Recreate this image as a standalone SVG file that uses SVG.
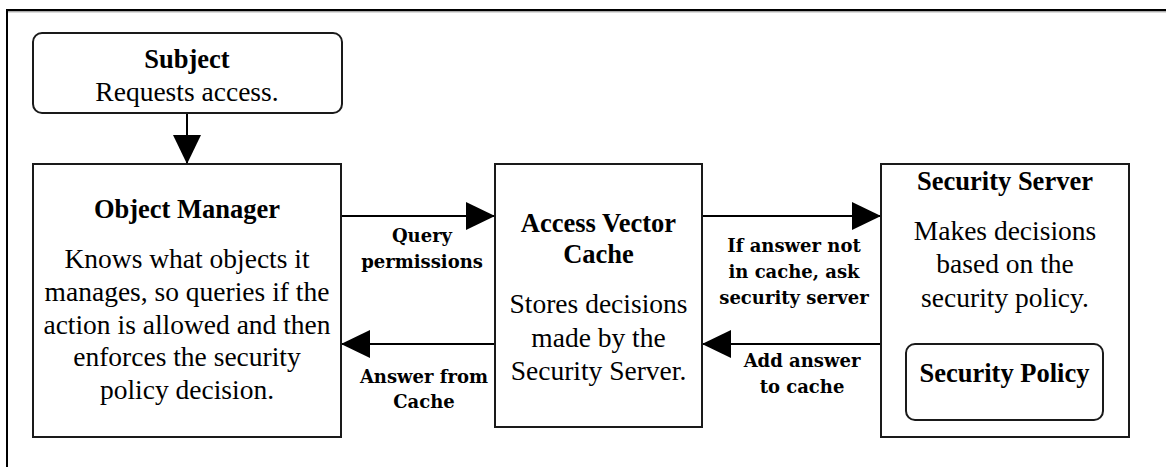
<svg xmlns="http://www.w3.org/2000/svg" width="1166" height="467" viewBox="0 0 1166 467">
  <style>
    .box { fill: #ffffff; stroke: #1a1a1a; stroke-width: 2; }
    .title { font-family: "Liberation Serif", "Times New Roman", serif; font-weight: bold; font-size: 26.5px; fill: #000; text-anchor: middle; }
    .body { font-family: "Liberation Serif", "Times New Roman", serif; font-size: 27.5px; fill: #000; text-anchor: middle; }
    .label { font-family: "DejaVu Serif", serif; font-weight: bold; font-size: 18px; fill: #000; text-anchor: middle; }
    .link { fill: none; stroke: #000; stroke-width: 2; marker-end: url(#head); }
  </style>
  <defs>
    <marker id="head" markerUnits="userSpaceOnUse" markerWidth="29" markerHeight="28" refX="29" refY="14" orient="auto">
      <path d="M0,0 L29,14 L0,28 Z" fill="#000"/>
    </marker>
  </defs>

  <rect width="1166" height="467" fill="#ffffff"/>

  <!-- frame: top and left edges only -->
  <g id="frame">
    <path d="M7,467 V10 H1166" fill="none" stroke="#000" stroke-width="2"/>
    <path d="M8,11.8 H1166" fill="none" stroke="#888" stroke-width="1"/>
  </g>

  <g id="connectors">
    <line class="link" x1="187" y1="113" x2="187" y2="164"/>
    <line class="link" x1="341" y1="216" x2="495" y2="216"/>
    <line class="link" x1="495" y1="344" x2="341" y2="344"/>
    <line class="link" x1="702" y1="216" x2="881" y2="216"/>
    <line class="link" x1="881" y1="344" x2="702" y2="344"/>
    <text class="label" x="422" y="242">Query</text>
    <text class="label" x="422" y="268">permissions</text>
    <text class="label" x="424" y="383">Answer from</text>
    <text class="label" x="424" y="408">Cache</text>
    <text class="label" x="794" y="252">If answer not</text>
    <text class="label" x="794" y="278">in cache, ask</text>
    <text class="label" x="794" y="304">security server</text>
    <text class="label" x="802" y="367">Add answer</text>
    <text class="label" x="802" y="393">to cache</text>
  </g>

  <g id="subject">
    <rect class="box" x="33" y="33" width="309" height="80" rx="9"/>
    <text class="title" x="187" y="68">Subject</text>
    <text class="body" x="187" y="101">Requests access.</text>
  </g>

  <g id="object-manager">
    <rect class="box" x="33" y="164" width="308" height="273"/>
    <text class="title" x="187" y="218">Object Manager</text>
    <text class="body" x="187" y="268">Knows what objects it</text>
    <text class="body" x="187" y="301">manages, so queries if the</text>
    <text class="body" x="187" y="333.5">action is allowed and then</text>
    <text class="body" x="187" y="366">enforces the security</text>
    <text class="body" x="187" y="398.5">policy decision.</text>
  </g>

  <g id="access-vector-cache">
    <rect class="box" x="495" y="164" width="207" height="263"/>
    <text class="title" x="598.5" y="232">Access Vector</text>
    <text class="title" x="598.5" y="263">Cache</text>
    <text class="body" x="598.5" y="313">Stores decisions</text>
    <text class="body" x="598.5" y="347">made by the</text>
    <text class="body" x="598.5" y="380">Security Server.</text>
  </g>

  <g id="security-server">
    <rect class="box" x="881" y="164" width="248" height="273"/>
    <text class="title" x="1005" y="190">Security Server</text>
    <text class="body" x="1005" y="240">Makes decisions</text>
    <text class="body" x="1005" y="273">based on the</text>
    <text class="body" x="1005" y="307">security policy.</text>
  </g>

  <g id="security-policy">
    <rect class="box" x="906" y="344" width="197" height="76" rx="9"/>
    <text class="title" x="1004.5" y="382">Security Policy</text>
  </g>
</svg>
